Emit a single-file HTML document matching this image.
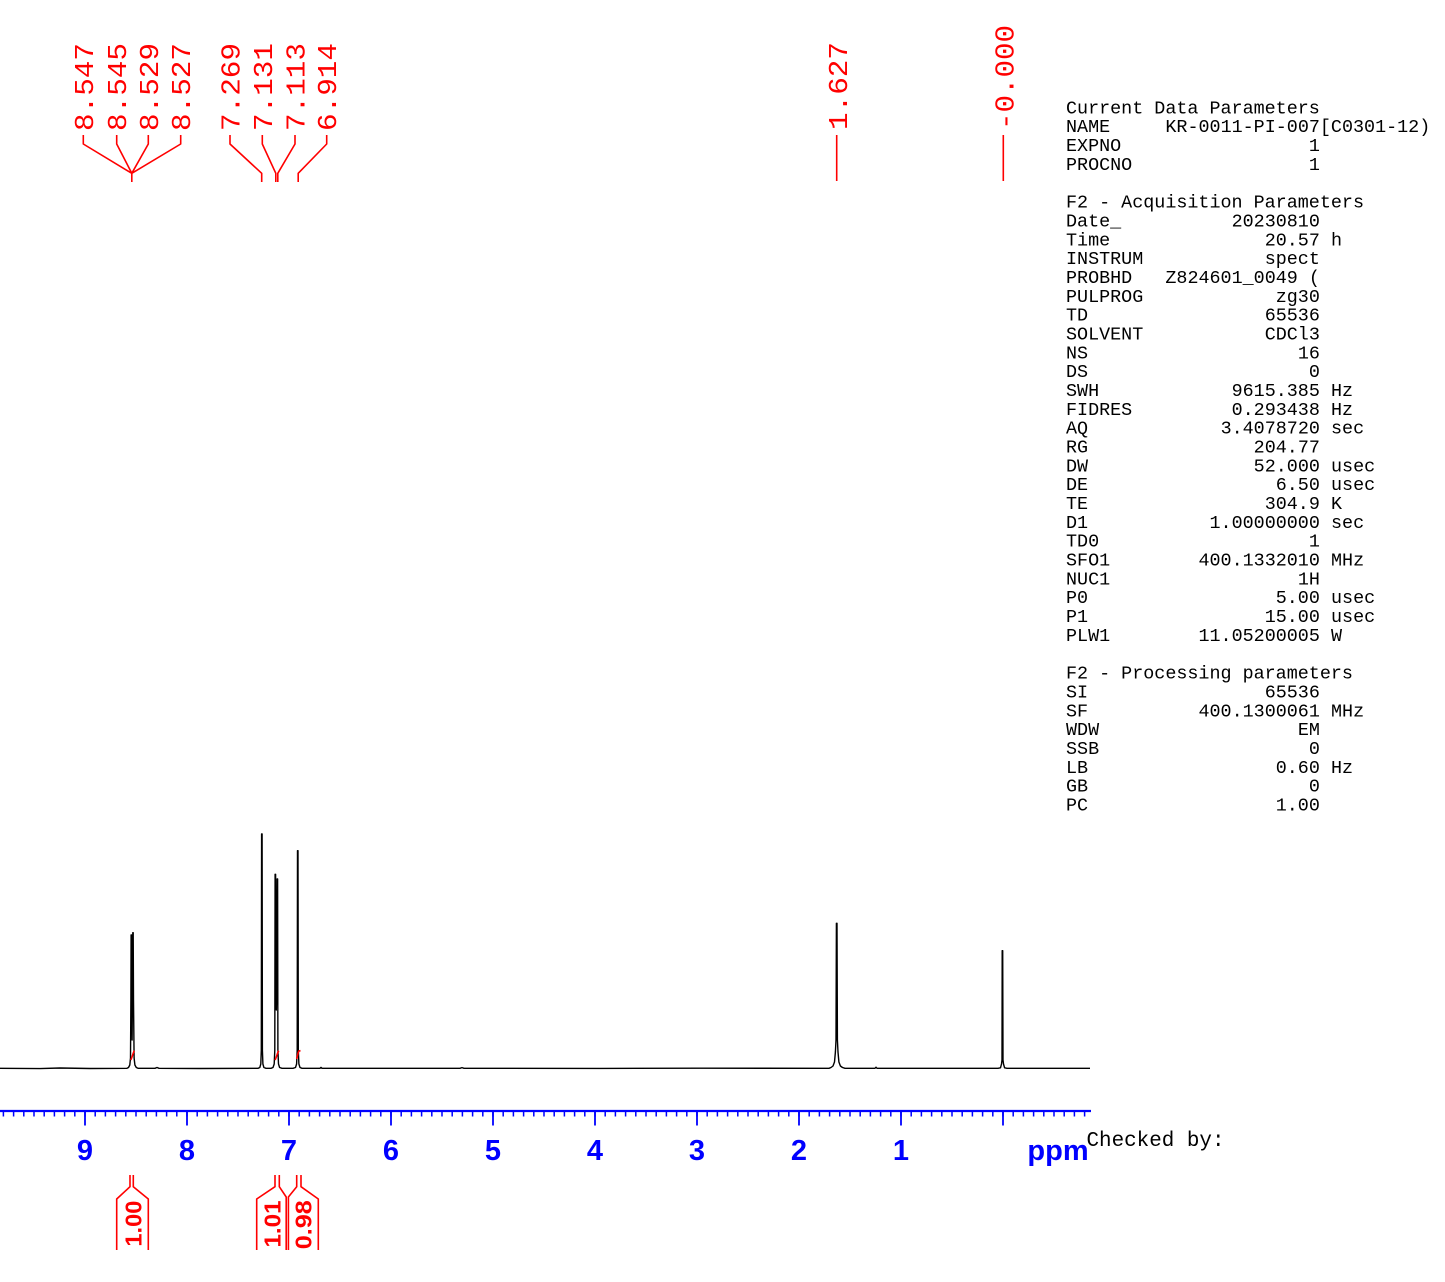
<!DOCTYPE html>
<html>
<head>
<meta charset="utf-8">
<style>
html,body{margin:0;padding:0;background:#fff;}
svg{display:block;}
.mono{font-family:"Liberation Mono","DejaVu Sans Mono",monospace;}
.sans{font-family:"Liberation Sans",Arial,sans-serif;font-weight:bold;}
</style>
</head>
<body>
<svg width="1445" height="1282" viewBox="0 0 1445 1282" xmlns="http://www.w3.org/2000/svg">
<rect width="1445" height="1282" fill="#fff"/>

<!-- Peak labels (top) -->
<g class="mono" fill="#ff0000" font-size="27">
  <text transform="translate(92.8,131) rotate(-90)" textLength="88" lengthAdjust="spacingAndGlyphs">8.547</text>
  <text transform="translate(126.2,131) rotate(-90)" textLength="88" lengthAdjust="spacingAndGlyphs">8.545</text>
  <text transform="translate(157.8,131) rotate(-90)" textLength="88" lengthAdjust="spacingAndGlyphs">8.529</text>
  <text transform="translate(190.2,131) rotate(-90)" textLength="88" lengthAdjust="spacingAndGlyphs">8.527</text>
  <text transform="translate(239.5,131) rotate(-90)" textLength="88" lengthAdjust="spacingAndGlyphs">7.269</text>
  <text transform="translate(271.8,131) rotate(-90)" textLength="88" lengthAdjust="spacingAndGlyphs">7.131</text>
  <text transform="translate(304.5,131) rotate(-90)" textLength="88" lengthAdjust="spacingAndGlyphs">7.113</text>
  <text transform="translate(336.2,131) rotate(-90)" textLength="88" lengthAdjust="spacingAndGlyphs">6.914</text>
  <text transform="translate(847,130) rotate(-90)" textLength="88" lengthAdjust="spacingAndGlyphs">1.627</text>
  <text transform="translate(1013.5,130) rotate(-90)" textLength="105" lengthAdjust="spacingAndGlyphs">-0.000</text>
</g>

<!-- Leader lines -->
<g stroke="#ff0000" stroke-width="1.6" fill="none" stroke-linejoin="round">
  <path d="M83.3 135V144L131.8 173.3M116.7 135V144L131.8 173.3M148.3 135V144L131.8 173.3M180.7 135V144L131.8 173.3M131.8 173.3V182"/>
  <path d="M230 135V144L261.7 173.3V182"/>
  <path d="M262.3 135V144L275.8 173.3V182"/>
  <path d="M295 135V144L277.8 173.3V182"/>
  <path d="M326.7 135V144L298.2 173.3V182"/>
  <path d="M836.7 135V181"/>
  <path d="M1003.3 135V181"/>
</g>

<!-- Spectrum -->
<path fill="none" stroke="#000" stroke-width="1.4" stroke-linejoin="round" d="
M0 1068.3 L40 1068.6 L60 1068 L90 1068.5 L127 1068.3
L128.5 1067.5 L129.8 1065 L130.5 1058 L130.9 1000 L131.1 935 L131.5 935 L131.9 1000 L132.1 1040 L132.4 1000 L132.8 932.7 L133.2 932.7 L133.5 1000 L134.1 1058 L134.9 1065 L136.3 1067.5 L138 1068.3
L155 1068.3 L157 1067.5 L159 1068.3 L200 1068.5 L258 1068.3
L259.8 1067.5 L260.8 1064 L261.3 1050 L261.6 834 L262.1 834 L262.4 1050 L262.9 1064 L263.9 1067.5 L266 1068.3
L271 1068.3
L273 1067.5 L274.2 1064 L274.8 1050 L275.1 874.3 L275.6 874.3 L276 990 L276.3 1010 L276.7 990 L277.1 879 L277.6 879 L277.9 1050 L278.5 1064 L279.6 1067.5 L282 1068.3
L293 1068.3
L295.5 1067.5 L296.6 1064 L297.2 1050 L297.5 850.7 L298 850.7 L298.3 1050 L298.9 1064 L300 1067.5 L302 1068.3
L320 1068.3 L321 1067.4 L322 1068.3 L460 1068.3 L462 1067.6 L464 1068.3 L600 1068.4 L700 1068.2 L829 1068.3
L831 1067.5 L833 1066 L834.5 1062 L835.4 1052 L836 1040 L836.4 923.3 L837 923.3 L837.4 1040 L838 1052 L838.9 1062 L840.4 1066 L842.5 1067.5 L845 1068.3
L875 1068.3 L876 1067.2 L877 1068.3 L998 1068.3
L1000.5 1067.8 L1001.5 1064 L1002 1060 L1002.2 950.7 L1002.7 950.7 L1003 1060 L1003.5 1064 L1004.6 1067.8 L1007 1068.3
L1090 1068.3"/>

<!-- Integral curves -->
<g stroke="#ff0000" stroke-width="1.6" fill="none">
  <path d="M130.7 1060 C132 1058 133 1053 134.3 1050.7"/>
  <path d="M275 1060 C276.3 1058 277.3 1053 278.7 1050.7"/>
  <path d="M296.7 1059 C297.5 1056 298 1052 299 1051 L300.5 1050.7"/>
</g>

<!-- Axis -->
<g stroke="#0000ff" fill="none">
  <path d="M0 1111H1091" stroke-width="2.2"/>
  <path stroke-width="1.5" d="M1084.6 1111v5.5
m-10.2-5.5v5.5m-10.2-5.5v5.5m-10.2-5.5v5.5m-10.2-5.5v5.5m-10.2-5.5v5.5m-10.2-5.5v5.5m-10.2-5.5v5.5m-10.2-5.5v5.5m-10.2-5.5v5.5m-10.2-5.5v5.5
m-10.2-5.5v5.5m-10.2-5.5v5.5m-10.2-5.5v5.5m-10.2-5.5v5.5m-10.2-5.5v5.5m-10.2-5.5v5.5m-10.2-5.5v5.5m-10.2-5.5v5.5m-10.2-5.5v5.5m-10.2-5.5v5.5
m-10.2-5.5v5.5m-10.2-5.5v5.5m-10.2-5.5v5.5m-10.2-5.5v5.5m-10.2-5.5v5.5m-10.2-5.5v5.5m-10.2-5.5v5.5m-10.2-5.5v5.5m-10.2-5.5v5.5m-10.2-5.5v5.5
m-10.2-5.5v5.5m-10.2-5.5v5.5m-10.2-5.5v5.5m-10.2-5.5v5.5m-10.2-5.5v5.5m-10.2-5.5v5.5m-10.2-5.5v5.5m-10.2-5.5v5.5m-10.2-5.5v5.5m-10.2-5.5v5.5
m-10.2-5.5v5.5m-10.2-5.5v5.5m-10.2-5.5v5.5m-10.2-5.5v5.5m-10.2-5.5v5.5m-10.2-5.5v5.5m-10.2-5.5v5.5m-10.2-5.5v5.5m-10.2-5.5v5.5m-10.2-5.5v5.5
m-10.2-5.5v5.5m-10.2-5.5v5.5m-10.2-5.5v5.5m-10.2-5.5v5.5m-10.2-5.5v5.5m-10.2-5.5v5.5m-10.2-5.5v5.5m-10.2-5.5v5.5m-10.2-5.5v5.5m-10.2-5.5v5.5
m-10.2-5.5v5.5m-10.2-5.5v5.5m-10.2-5.5v5.5m-10.2-5.5v5.5m-10.2-5.5v5.5m-10.2-5.5v5.5m-10.2-5.5v5.5m-10.2-5.5v5.5m-10.2-5.5v5.5m-10.2-5.5v5.5
m-10.2-5.5v5.5m-10.2-5.5v5.5m-10.2-5.5v5.5m-10.2-5.5v5.5m-10.2-5.5v5.5m-10.2-5.5v5.5m-10.2-5.5v5.5m-10.2-5.5v5.5m-10.2-5.5v5.5m-10.2-5.5v5.5
m-10.2-5.5v5.5m-10.2-5.5v5.5m-10.2-5.5v5.5m-10.2-5.5v5.5m-10.2-5.5v5.5m-10.2-5.5v5.5m-10.2-5.5v5.5m-10.2-5.5v5.5m-10.2-5.5v5.5m-10.2-5.5v5.5
m-10.2-5.5v5.5m-10.2-5.5v5.5m-10.2-5.5v5.5m-10.2-5.5v5.5m-10.2-5.5v5.5m-10.2-5.5v5.5m-10.2-5.5v5.5m-10.2-5.5v5.5m-10.2-5.5v5.5m-10.2-5.5v5.5
m-10.2-5.5v5.5m-10.2-5.5v5.5m-10.2-5.5v5.5m-10.2-5.5v5.5m-10.2-5.5v5.5m-10.2-5.5v5.5"/>
  <path stroke-width="1.8" d="M1003 1111V1125.5M901 1111V1125.5M799 1111V1125.5M697 1111V1125.5M595 1111V1125.5M493 1111V1125.5M391 1111V1125.5M289 1111V1125.5M187 1111V1125.5M85 1111V1125.5"/>
</g>
<g class="sans" fill="#0000ff" font-size="29" text-anchor="middle">
  <text x="85" y="1160">9</text>
  <text x="187" y="1160">8</text>
  <text x="289" y="1160">7</text>
  <text x="391" y="1160">6</text>
  <text x="493" y="1160">5</text>
  <text x="595" y="1160">4</text>
  <text x="697" y="1160">3</text>
  <text x="799" y="1160">2</text>
  <text x="901" y="1160">1</text>
  <text x="1058" y="1160">ppm</text>
</g>
<text class="mono" x="1086.5" y="1146" font-size="21" fill="#000" textLength="138" lengthAdjust="spacingAndGlyphs">Checked by:</text>

<!-- Integral brackets -->
<g stroke="#ff0000" stroke-width="1.6" fill="none" stroke-linejoin="round">
  <path d="M130 1175V1186.7L116.7 1199V1250M133.3 1175V1186.7L148.3 1199V1250"/>
  <path d="M275 1175V1186.7L256.7 1199V1250M279.3 1175V1186.7L286.2 1197V1250"/>
  <path d="M296.7 1175V1186.7L288.4 1197V1250M301 1175V1186.7L318.3 1199V1250"/>
</g>
<g class="sans" fill="#ff0000" font-size="23">
  <text transform="translate(141.7,1246.6) rotate(-90)" textLength="46" lengthAdjust="spacingAndGlyphs">1.00</text>
  <text transform="translate(280.5,1247.5) rotate(-90)" textLength="47" lengthAdjust="spacingAndGlyphs">1.01</text>
  <text transform="translate(311.7,1249.3) rotate(-90)" textLength="49" lengthAdjust="spacingAndGlyphs">0.98</text>
</g>

<!-- Parameters -->
<g class="mono" font-size="18.4" fill="#000">
  <text x="1066" y="113.4">Current Data Parameters</text>
  <text x="1066" y="132.2">NAME</text><text x="1165.4" y="132.2">KR-0011-PI-007[C0301-12)</text>
  <text x="1066" y="151.1">EXPNO</text><text x="1319.9" y="151.1" text-anchor="end">1</text>
  <text x="1066" y="169.9">PROCNO</text><text x="1319.9" y="169.9" text-anchor="end">1</text>

  <text x="1066" y="207.6">F2 - Acquisition Parameters</text>
  <text x="1066" y="226.4">Date_</text><text x="1319.9" y="226.4" text-anchor="end">20230810</text>
  <text x="1066" y="245.3">Time</text><text x="1319.9" y="245.3" text-anchor="end">20.57</text><text x="1331" y="245.3">h</text>
  <text x="1066" y="264.1">INSTRUM</text><text x="1319.9" y="264.1" text-anchor="end">spect</text>
  <text x="1066" y="283.0">PROBHD</text><text x="1319.9" y="283.0" text-anchor="end">Z824601_0049 (</text>
  <text x="1066" y="301.8">PULPROG</text><text x="1319.9" y="301.8" text-anchor="end">zg30</text>
  <text x="1066" y="320.6">TD</text><text x="1319.9" y="320.6" text-anchor="end">65536</text>
  <text x="1066" y="339.5">SOLVENT</text><text x="1319.9" y="339.5" text-anchor="end">CDCl3</text>
  <text x="1066" y="358.3">NS</text><text x="1319.9" y="358.3" text-anchor="end">16</text>
  <text x="1066" y="377.2">DS</text><text x="1319.9" y="377.2" text-anchor="end">0</text>
  <text x="1066" y="396.0">SWH</text><text x="1319.9" y="396.0" text-anchor="end">9615.385</text><text x="1331" y="396.0">Hz</text>
  <text x="1066" y="414.8">FIDRES</text><text x="1319.9" y="414.8" text-anchor="end">0.293438</text><text x="1331" y="414.8">Hz</text>
  <text x="1066" y="433.7">AQ</text><text x="1319.9" y="433.7" text-anchor="end">3.4078720</text><text x="1331" y="433.7">sec</text>
  <text x="1066" y="452.5">RG</text><text x="1319.9" y="452.5" text-anchor="end">204.77</text>
  <text x="1066" y="471.4">DW</text><text x="1319.9" y="471.4" text-anchor="end">52.000</text><text x="1331" y="471.4">usec</text>
  <text x="1066" y="490.2">DE</text><text x="1319.9" y="490.2" text-anchor="end">6.50</text><text x="1331" y="490.2">usec</text>
  <text x="1066" y="509.0">TE</text><text x="1319.9" y="509.0" text-anchor="end">304.9</text><text x="1331" y="509.0">K</text>
  <text x="1066" y="527.9">D1</text><text x="1319.9" y="527.9" text-anchor="end">1.00000000</text><text x="1331" y="527.9">sec</text>
  <text x="1066" y="546.7">TD0</text><text x="1319.9" y="546.7" text-anchor="end">1</text>
  <text x="1066" y="565.6">SFO1</text><text x="1319.9" y="565.6" text-anchor="end">400.1332010</text><text x="1331" y="565.6">MHz</text>
  <text x="1066" y="584.4">NUC1</text><text x="1319.9" y="584.4" text-anchor="end">1H</text>
  <text x="1066" y="603.2">P0</text><text x="1319.9" y="603.2" text-anchor="end">5.00</text><text x="1331" y="603.2">usec</text>
  <text x="1066" y="622.1">P1</text><text x="1319.9" y="622.1" text-anchor="end">15.00</text><text x="1331" y="622.1">usec</text>
  <text x="1066" y="640.9">PLW1</text><text x="1319.9" y="640.9" text-anchor="end">11.05200005</text><text x="1331" y="640.9">W</text>

  <text x="1066" y="678.6">F2 - Processing parameters</text>
  <text x="1066" y="697.5">SI</text><text x="1319.9" y="697.5" text-anchor="end">65536</text>
  <text x="1066" y="716.3">SF</text><text x="1319.9" y="716.3" text-anchor="end">400.1300061</text><text x="1331" y="716.3">MHz</text>
  <text x="1066" y="735.2">WDW</text><text x="1319.9" y="735.2" text-anchor="end">EM</text>
  <text x="1066" y="754.0">SSB</text><text x="1319.9" y="754.0" text-anchor="end">0</text>
  <text x="1066" y="772.8">LB</text><text x="1319.9" y="772.8" text-anchor="end">0.60</text><text x="1331" y="772.8">Hz</text>
  <text x="1066" y="791.7">GB</text><text x="1319.9" y="791.7" text-anchor="end">0</text>
  <text x="1066" y="810.5">PC</text><text x="1319.9" y="810.5" text-anchor="end">1.00</text>
</g>
</svg>
</body>
</html>
